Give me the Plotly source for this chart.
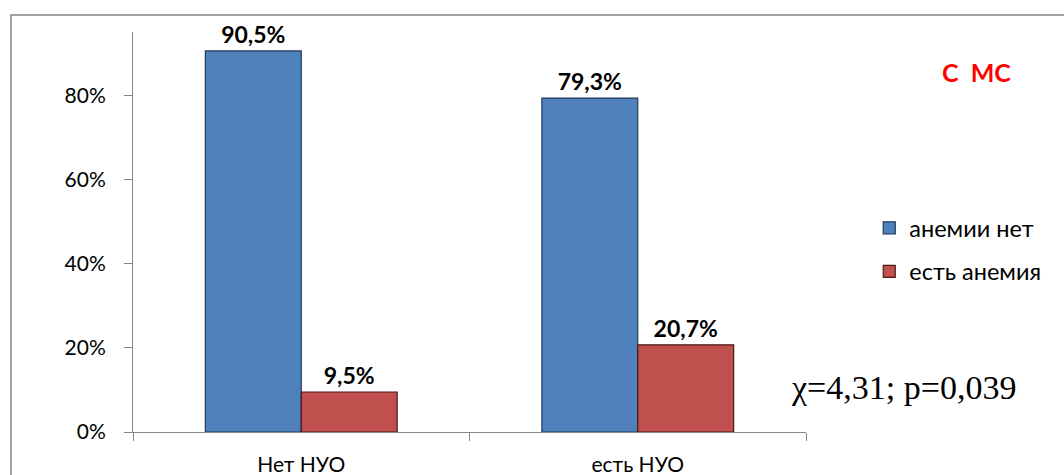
import plotly.graph_objects as go

# Доля пациентов с анемией и без неё в зависимости от наличия НУО (группа с МС)
categories = ["Нет НУО", "есть НУО"]
series_names = ["анемии нет", "есть анемия"]
no_anemia = [90.5, 79.3]
anemia = [9.5, 20.7]
y_tick_values = [0, 20, 40, 60, 80]
y_tick_labels = ["0%", "20%", "40%", "60%", "80%"]

blue = "#4F81BD"
red = "#C0504D"
axis_gray = "#868686"
base_family = "Lato, 'Open Sans', sans-serif"
tick_font = dict(family=base_family, size=21, color="#000000")
value_font = dict(family=base_family, size=23, color="#000000")

fig = go.Figure()
fig.add_trace(go.Bar(
    x=categories, y=no_anemia, name=series_names[0],
    marker=dict(color=blue, line=dict(color="#203A5C", width=1.2)),
    texttemplate="<b>%{y:.1f}%</b>", textposition="outside",
    textfont=value_font, constraintext="none", cliponaxis=False,
    legendgroup="a",
))
fig.add_trace(go.Bar(
    x=categories, y=anemia, name=series_names[1],
    marker=dict(color=red, line=dict(color="#4A1817", width=1.2)),
    texttemplate="<b>%{y:.1f}%</b>", textposition="outside",
    textfont=value_font, constraintext="none", cliponaxis=False,
    legendgroup="b",
))

# Outer frame of the chart area
fig.add_shape(type="rect", xref="paper", yref="paper",
              x0=-0.1813, x1=1.6, y0=-0.3, y1=1.0425,
              line=dict(color=axis_gray, width=1.5), fillcolor="rgba(0,0,0,0)",
              layer="below")

fig.add_annotation(text="<b>С  МС</b>", xref="paper", yref="paper",
                   x=1.254, y=0.90, xanchor="center", yanchor="middle",
                   showarrow=False,
                   font=dict(family=base_family, size=25, color="#FF0000"))
fig.add_annotation(text="χ=4,31; p=0,039", xref="paper", yref="paper",
                   x=0.974, y=0.1125, xanchor="left", yanchor="middle",
                   showarrow=False,
                   font=dict(family="'Liberation Serif', 'Times New Roman', serif",
                             size=34, color="#000000"))

fig.update_layout(
    width=1064, height=475,
    margin=dict(l=133, r=258, t=32, b=43, autoexpand=False),
    paper_bgcolor="white", plot_bgcolor="white",
    separators=", ",
    barmode="group", bargap=0.43, bargroupgap=0,
    showlegend=True,
    legend=dict(x=1.094, y=0.455, xanchor="left", yanchor="middle",
                font=dict(family=base_family, size=23.5, color="#000000"),
                traceorder="grouped", tracegroupgap=10,
                bgcolor="rgba(0,0,0,0)", itemwidth=30),
    xaxis=dict(
        type="category", showline=True, linecolor=axis_gray, linewidth=1,
        ticks="outside", tickson="boundaries", ticklen=8, tickcolor=axis_gray,
        showgrid=False, tickfont=tick_font, ticklabelstandoff=14,
        zeroline=False, automargin=False,
    ),
    yaxis=dict(
        range=[0, 95], tickmode="array", tickvals=y_tick_values,
        ticktext=y_tick_labels,
        showline=True, linecolor=axis_gray, linewidth=1,
        ticks="outside", ticklen=8, tickcolor=axis_gray,
        showgrid=False, zeroline=False, tickfont=tick_font,
        ticklabelstandoff=14, automargin=False,
    ),
)

fig.write_html("out.html")
